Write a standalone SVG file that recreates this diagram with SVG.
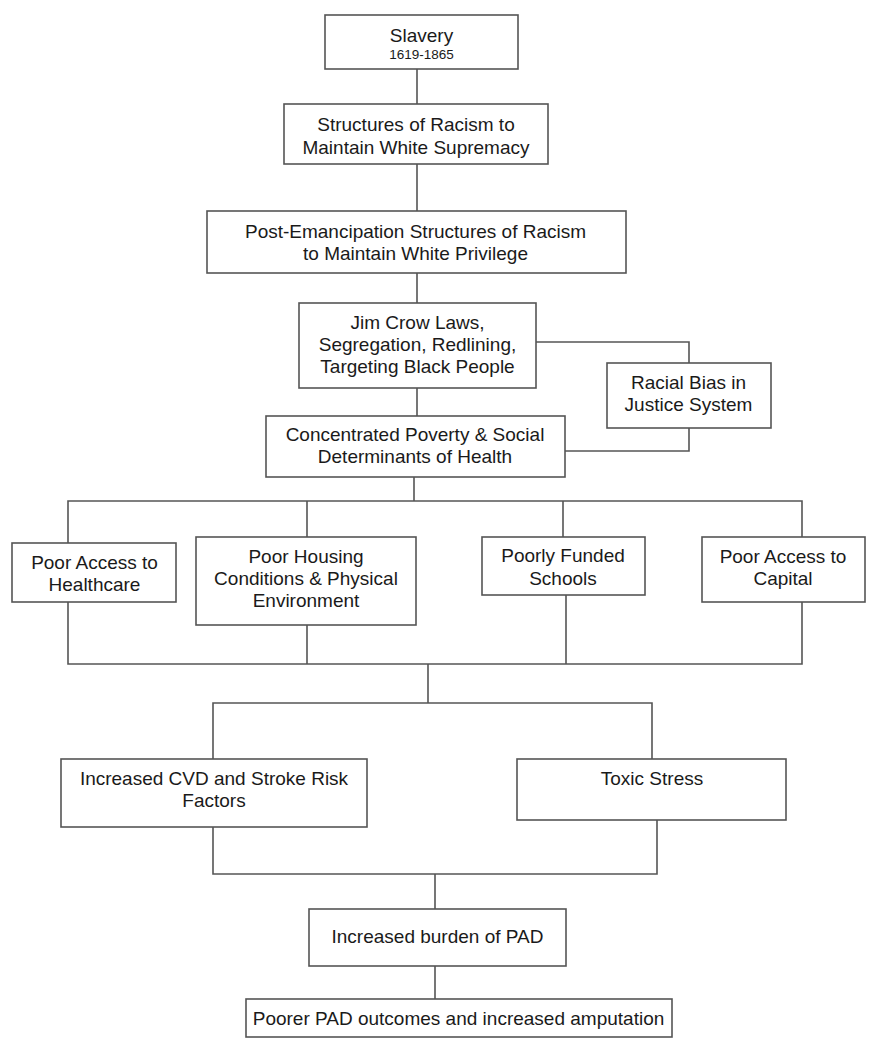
<svg xmlns="http://www.w3.org/2000/svg" width="881" height="1050" viewBox="0 0 881 1050">
<style>
.box{fill:#fff;stroke:#555;stroke-width:1.6}
.t{font-family:"Liberation Sans",Arial,sans-serif;font-size:19px;fill:#1a1a1a;text-anchor:middle}
.s{font-size:13.5px}
.c{fill:none;stroke:#555;stroke-width:1.6}
</style>
<rect width="881" height="1050" fill="#fff"/>
<g id="connectors">
<path class="c" d="M417,69V104M417,164V211M417,273V303M536,342H689V363M689,428V451H565M417,388V416M414,477V501"/>
<path class="c" d="M68,543V501H802V537M307,501V537M563,501V537"/>
<path class="c" d="M68,602V664H802V602M307,625V664M566,595V664M428,664V703"/>
<path class="c" d="M213,759V703H652V759M213,827V874H657V820M435,874V909M435,966V999"/>
</g>
<g id="slavery"><rect class="box" x="325" y="15" width="193" height="54"/><text class="t" x="421.5" y="41.5">Slavery</text><text class="t s" x="421.5" y="59">1619-1865</text></g>
<g id="structures"><rect class="box" x="284" y="104" width="264" height="60"/><text class="t" x="416" y="131">Structures of Racism to</text><text class="t" x="416" y="153.5">Maintain White Supremacy</text></g>
<g id="post-emancipation"><rect class="box" x="207" y="211" width="419" height="62"/><text class="t" x="415.5" y="238">Post-Emancipation Structures of Racism</text><text class="t" x="415.5" y="260">to Maintain White Privilege</text></g>
<g id="jim-crow"><rect class="box" x="299" y="303" width="237" height="85"/><text class="t" x="417.5" y="329">Jim Crow Laws,</text><text class="t" x="417.5" y="351">Segregation, Redlining,</text><text class="t" x="417.5" y="373">Targeting Black People</text></g>
<g id="racial-bias"><rect class="box" x="607" y="363" width="164" height="65"/><text class="t" x="688.5" y="389">Racial Bias in</text><text class="t" x="688.5" y="411">Justice System</text></g>
<g id="poverty"><rect class="box" x="266" y="416" width="299" height="61"/><text class="t" x="415" y="441">Concentrated Poverty &amp; Social</text><text class="t" x="415" y="463">Determinants of Health</text></g>
<g id="healthcare"><rect class="box" x="12" y="543" width="164" height="59"/><text class="t" x="94.5" y="569">Poor Access to</text><text class="t" x="94.5" y="591">Healthcare</text></g>
<g id="housing"><rect class="box" x="196" y="537" width="220" height="88"/><text class="t" x="306" y="563">Poor Housing</text><text class="t" x="306" y="585">Conditions &amp; Physical</text><text class="t" x="306" y="607">Environment</text></g>
<g id="schools"><rect class="box" x="482" y="537" width="163" height="58"/><text class="t" x="563" y="562">Poorly Funded</text><text class="t" x="563" y="585">Schools</text></g>
<g id="capital"><rect class="box" x="702" y="537" width="163" height="65"/><text class="t" x="783" y="563">Poor Access to</text><text class="t" x="783" y="585">Capital</text></g>
<g id="cvd"><rect class="box" x="61" y="759" width="306" height="68"/><text class="t" x="214" y="785">Increased CVD and Stroke Risk</text><text class="t" x="214" y="807">Factors</text></g>
<g id="toxic-stress"><rect class="box" x="517" y="759" width="269" height="61"/><text class="t" x="652" y="785">Toxic Stress</text></g>
<g id="burden"><rect class="box" x="309" y="909" width="257" height="57"/><text class="t" x="437.5" y="943">Increased burden of PAD</text></g>
<g id="outcomes"><rect class="box" x="246" y="999" width="426" height="38"/><text class="t" x="458.5" y="1025">Poorer PAD outcomes and increased amputation</text></g>
</svg>
